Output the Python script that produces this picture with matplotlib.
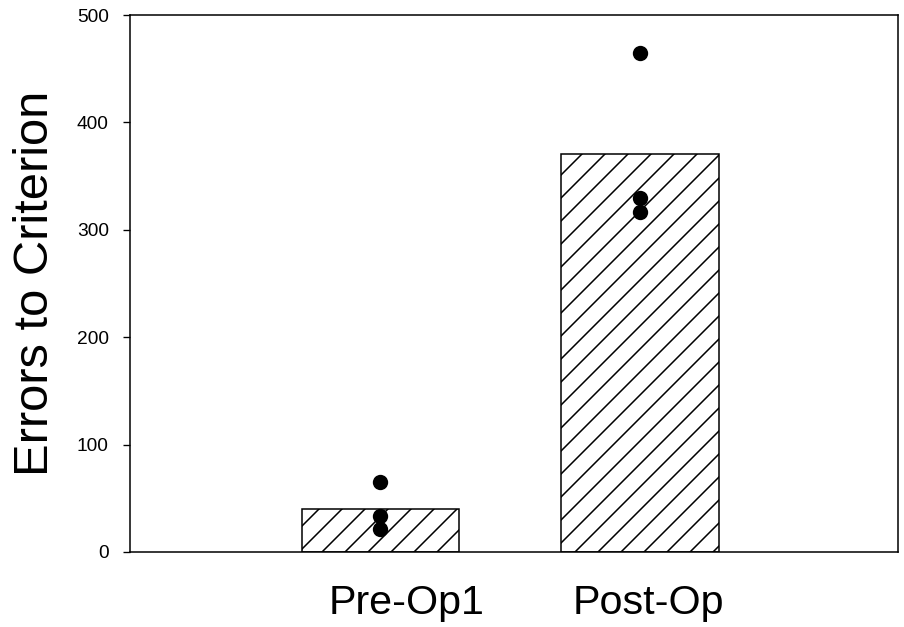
import numpy as np
import matplotlib
matplotlib.use('Agg')
import matplotlib.pyplot as plt
import matplotlib.transforms as mtransforms

# data
groups = ['Pre-Op1', 'Post-Op']
means = [40, 371]
pre_points = [65, 33.5, 21.5]
post_points = [465, 330, 317]
yticks = [0, 100, 200, 300, 400, 500]

DPI = 138
plt.rcParams['font.family'] = ['Liberation Sans', 'DejaVu Sans']
plt.rcParams['hatch.linewidth'] = 0.8

fig = plt.figure(figsize=(904 / DPI, 627 / DPI), dpi=DPI)
ax = fig.add_axes([130 / 904, 1 - 552 / 627, 768 / 904, 537 / 627])

x = np.arange(1, len(groups) + 1)
ax.bar(x, means, width=0.605, color='white', edgecolor='black',
       linewidth=0.8, hatch='//', zorder=2)

for xi, pts in zip(x, [pre_points, post_points]):
    ax.plot([xi] * len(pts), pts, 'o', color='black', markersize=7, zorder=3)

ax.set_xlim(0.035, 2.994)
ax.set_ylim(0, 500)
ax.set_yticks(yticks)
ax.set_yticklabels([str(t) for t in yticks], fontsize=10)
ax.set_xticks(x)
ax.set_xticklabels(groups, fontsize=21.5)
ax.tick_params(axis='x', length=0, pad=16.5)
ax.tick_params(axis='y', length=3.6, width=0.7, pad=7.5)

# category labels sit a little right of their bars in the original
for lbl, dx in zip(ax.get_xticklabels(), [26, 8]):
    lbl.set_transform(lbl.get_transform() + mtransforms.ScaledTranslation(dx / DPI, 0, fig.dpi_scale_trans))

for s in ax.spines.values():
    s.set_linewidth(0.8)

ax.set_ylabel('Errors to Criterion', fontsize=25.5, labelpad=10)

fig.savefig('out.png', dpi=DPI, facecolor='white')
